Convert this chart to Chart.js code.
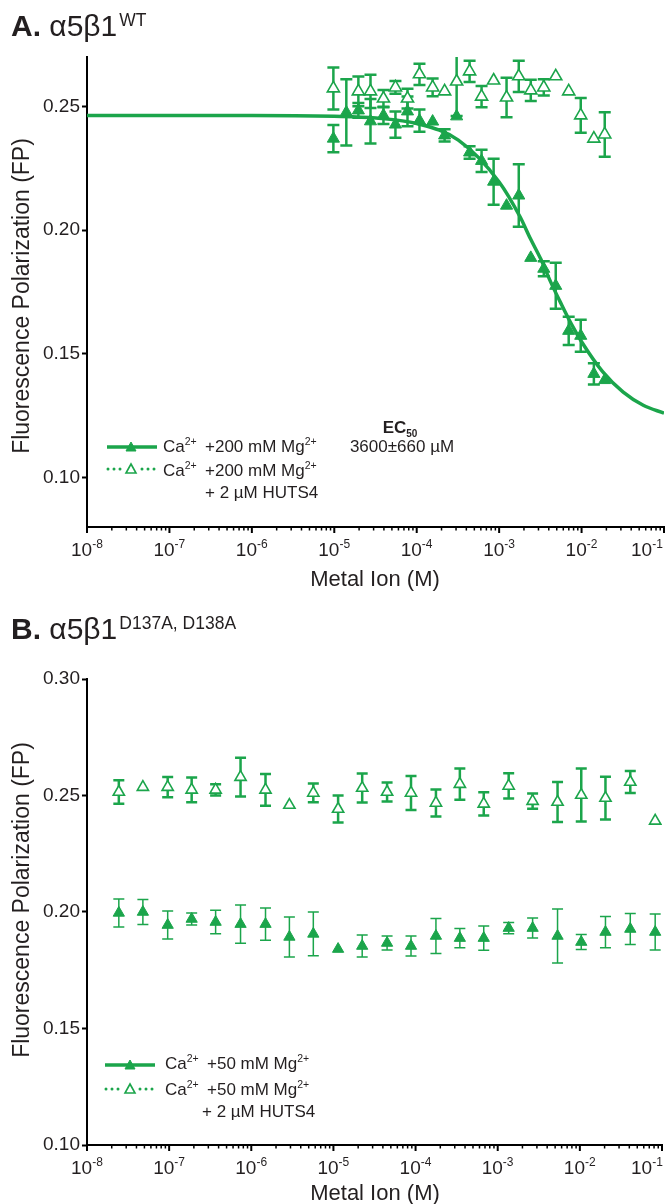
<!DOCTYPE html>
<html>
<head>
<meta charset="utf-8">
<title>Metal ion titration FP</title>
<script src="https://cdn.jsdelivr.net/npm/chart.js@4.4.1/dist/chart.umd.min.js"></script>
<style>
  html, body { margin: 0; padding: 0; background: #fff; }
  body { width: 666px; height: 1204px; position: relative; overflow: hidden;
         font-family: "Liberation Sans", Arial, Helvetica, sans-serif; color: #231f20; }
  canvas { position: absolute; left: 0; }
  #chartA { top: 0; }
  #chartB { top: 600px; }
  .txt { position: absolute; white-space: nowrap; line-height: 1; }
  .title { font-size: 30px; }
  .title sup { font-size: 17.5px; position: relative; top: -10px; vertical-align: baseline; line-height: 0; margin-left: 2px; }
  .leg { font-size: 17px; }
  .leg sup { font-size: 10.5px; position: relative; top: -7px; vertical-align: baseline; line-height: 0; }
  .ca { display: inline-block; width: 42px; }
  .ec { font-size: 17px; transform: translateX(-50%); }
  .ec sub { font-size: 10px; position: relative; top: 4px; vertical-align: baseline; line-height: 0; }
  .xtick { font-size: 19px; }
  .xtick sup { font-size: 12px; position: relative; top: -8px; vertical-align: baseline; line-height: 0; }
  .axt { font-size: 22px; transform: translateX(-50%); }
  .ytitle { font-size: 23px; transform: translate(-50%, -50%) rotate(-90deg); }
  #marks { position: absolute; left: 0; top: 0; pointer-events: none; }
</style>
</head>
<body>
<canvas id="chartA" width="666" height="600"></canvas>
<canvas id="chartB" width="666" height="604"></canvas>

<div class="txt title" style="left:11px;top:10.6px"><b>A.</b> α5β1<sup>WT</sup></div>
<div class="txt title" style="left:11px;top:613.6px"><b>B.</b> α5β1<sup>D137A, D138A</sup></div>

<div class="txt ytitle" style="left:21px;top:296px">Fluorescence Polarization (FP)</div>
<div class="txt ytitle" style="left:21px;top:900px">Fluorescence Polarization (FP)</div>
<div class="txt axt" style="left:375px;top:568px">Metal Ion (M)</div>
<div class="txt axt" style="left:375px;top:1182px">Metal Ion (M)</div>

<!-- legend A -->
<div class="txt leg" style="left:163px;top:437.6px"><span class="ca">Ca<sup>2+</sup></span>+200 mM Mg<sup>2+</sup></div>
<div class="txt leg" style="left:163px;top:461.6px"><span class="ca">Ca<sup>2+</sup></span>+200 mM Mg<sup>2+</sup></div>
<div class="txt leg" style="left:205px;top:483.6px">+ 2 µM HUTS4</div>
<div class="txt ec" style="left:400px;top:418.6px"><b>EC<sub>50</sub></b></div>
<div class="txt ec" style="left:402px;top:437.6px">3600±660 µM</div>

<!-- legend B -->
<div class="txt leg" style="left:165px;top:1054.6px"><span class="ca">Ca<sup>2+</sup></span>+50 mM Mg<sup>2+</sup></div>
<div class="txt leg" style="left:165px;top:1080.6px"><span class="ca">Ca<sup>2+</sup></span>+50 mM Mg<sup>2+</sup></div>
<div class="txt leg" style="left:202px;top:1102.6px">+ 2 µM HUTS4</div>

<svg id="marks" width="666" height="1204">
  <g stroke="#1ba54b" fill="#1ba54b">
    <line x1="107" y1="447" x2="157" y2="447" stroke-width="3.5"/>
    <polygon points="131,442 136,451 126,451" stroke-width="1"/>
    <line x1="108" y1="469" x2="122" y2="469" stroke-width="3" stroke-dasharray="0 6" stroke-linecap="round"/>
    <line x1="142" y1="469" x2="156" y2="469" stroke-width="3" stroke-dasharray="0 6" stroke-linecap="round"/>
    <polygon points="131,464 136,473 126,473" fill="#fff" stroke-width="1.6"/>

    <line x1="105" y1="1065" x2="155" y2="1065" stroke-width="3.5"/>
    <polygon points="130,1060 135,1069 125,1069" stroke-width="1"/>
    <line x1="106" y1="1089" x2="120" y2="1089" stroke-width="3" stroke-dasharray="0 6" stroke-linecap="round"/>
    <line x1="140" y1="1089" x2="154" y2="1089" stroke-width="3" stroke-dasharray="0 6" stroke-linecap="round"/>
    <polygon points="130,1084 135,1093 125,1093" fill="#fff" stroke-width="1.6"/>
  </g>
</svg>

<script>
var green = '#1ba54b';

// decades shown on the x axis (10^n)
var xExps = [-8, -7, -6, -5, -4, -3, -2, -1];

// ---- A. a5b1 WT, Ca2+ + 200 mM Mg2+ ----
var concA = [9.75e-6, 1.40e-5, 1.96e-5, 2.75e-5, 3.95e-5, 5.52e-5, 7.73e-5, 1.08e-4, 1.56e-4, 2.18e-4,
             3.05e-4, 4.38e-4, 6.12e-4, 8.57e-4, 1.23e-3, 1.73e-3, 2.42e-3, 3.48e-3, 4.86e-3, 6.98e-3,
             9.77e-3, 1.41e-2, 1.91e-2];
var fpA = [0.2370, 0.2476, 0.2484, 0.2440, 0.2464, 0.2427, 0.2480, 0.2443, 0.2439, 0.2383,
           0.2460, 0.2314, 0.2280, 0.2196, 0.2099, 0.2140, 0.1888, 0.1844, 0.1775, 0.1593,
           0.1573, 0.1419, 0.1394];
var errA = [0.0055, 0.0134, 0.0030, 0.0090, 0.0035, 0.0053, 0.0060, 0.0045, 0, 0.0025,
            0, 0.0025, 0.0045, 0.0093, 0, 0.0126, 0, 0.0030, 0.0093, 0.0057,
            0.0065, 0.0043, 0];

// ---- A. + 2 uM HUTS4 ----
var concAHuts = [9.75e-6, 1.96e-5, 2.75e-5, 3.95e-5, 5.52e-5, 7.73e-5, 1.08e-4, 1.56e-4, 2.18e-4,
                 3.05e-4, 4.38e-4, 6.12e-4, 8.57e-4, 1.23e-3, 1.73e-3, 2.42e-3, 3.48e-3, 4.86e-3,
                 6.98e-3, 9.77e-3, 1.41e-2, 1.91e-2];
var fpAHuts = [0.2573, 0.2561, 0.2561, 0.2532, 0.2577, 0.2532, 0.2630, 0.2577, 0.2561,
               0.2601, 0.2642, 0.2540, 0.2605, 0.2536, 0.2622, 0.2565, 0.2577, 0.2622,
               0.2561, 0.2464, 0.2370, 0.2387];
var errAHuts = [0.0085, 0.0060, 0.0067, 0.0035, 0.0026, 0.0040, 0.0043, 0.0036, 0,
                0.0140, 0.0043, 0.0043, 0, 0.0080, 0.0063, 0.0043, 0.0033, 0,
                0, 0.0070, 0, 0.0090];

// fitted curve
var fitX = [1e-8, 1e-7, 1e-6, 1e-5, 3.2e-5, 1e-4, 3.2e-4, 1e-3, 1.8e-3, 2.4e-3, 3.2e-3, 4.2e-3,
            5.6e-3, 7.5e-3, 1e-2, 1.8e-2, 3.2e-2, 5.6e-2, 0.1];
var fitY = [0.2464, 0.2464, 0.2464, 0.2460, 0.2453, 0.2431, 0.2364, 0.2195, 0.2053, 0.1965, 0.1883, 0.1792,
            0.1705, 0.1621, 0.1549, 0.1428, 0.1345, 0.1292, 0.1260];
var yTicksA = [0.10, 0.15, 0.20, 0.25];

// ---- B. a5b1 D137A, D138A, Ca2+ + 50 mM Mg2+ ----
var concB = [2.44e-8, 4.79e-8, 9.6e-8, 1.88e-7, 3.68e-7, 7.4e-7, 1.49e-6, 2.91e-6, 5.69e-6, 1.14e-5,
             2.24e-5, 4.5e-5, 8.8e-5, 1.77e-4, 3.46e-4, 6.76e-4, 1.36e-3, 2.66e-3, 5.35e-3, 1.04e-2,
             2.05e-2, 4.11e-2, 8.26e-2];
var fpB = [0.1996, 0.2000, 0.1944, 0.1970, 0.1957, 0.1948, 0.1948, 0.1893, 0.1906, 0.1841,
           0.1854, 0.1867, 0.1854, 0.1897, 0.1888, 0.1888, 0.1931, 0.1931, 0.1897, 0.1871,
           0.1914, 0.1927, 0.1914];
var errB = [0.0060, 0.0054, 0.0060, 0.0026, 0.0050, 0.0082, 0.0069, 0.0086, 0.0094, 0,
            0.0047, 0.0030, 0.0043, 0.0075, 0.0041, 0.0052, 0.0024, 0.0043, 0.0116, 0.0032,
            0.0067, 0.0067, 0.0077];
// ---- B. + 2 uM HUTS4 ----
var fpBHuts = [0.2515, 0.2536, 0.2536, 0.2524, 0.2524, 0.2579, 0.2524, 0.2459, 0.2511, 0.2442,
               0.2532, 0.2515, 0.2511, 0.2468, 0.2549, 0.2464, 0.2541, 0.2476, 0.2472, 0.2502,
               0.2489, 0.2558, 0.2391];
var errBHuts = [0.0050, 0, 0.0043, 0.0053, 0.0024, 0.0083, 0.0068, 0, 0.0040, 0.0058,
                0.0062, 0.0041, 0.0073, 0.0058, 0.0067, 0.0050, 0.0054, 0.0033, 0.0086, 0.0114,
                0.0092, 0.0047, 0];
var yTicksB = [0.10, 0.15, 0.20, 0.25, 0.30];

function points(xs, ys) {
    return xs.map(function(x, i) { return { x: x, y: ys[i] }; });
}

// error bars drawn under the markers
var errorBars = {
    id: 'errorBars',
    beforeDatasetsDraw: function(chart) {
        var ctx = chart.ctx, area = chart.chartArea;
        var xs = chart.scales.x, ys = chart.scales.y;
        ctx.save();
        ctx.beginPath();
        ctx.rect(area.left, area.top, area.right - area.left, area.bottom - area.top);
        ctx.clip();
        chart.data.datasets.forEach(function(ds) {
            if (!ds.errors) return;
            ctx.strokeStyle = green;
            ctx.lineWidth = ds.errWidth;
            ds.data.forEach(function(p, i) {
                var e = ds.errors[i];
                if (!e) return;
                var px = xs.getPixelForValue(p.x);
                var top = ys.getPixelForValue(p.y + e);
                var bot = ys.getPixelForValue(p.y - e);
                ctx.beginPath();
                ctx.moveTo(px, top); ctx.lineTo(px, bot);
                ctx.moveTo(px - ds.capHalf, top); ctx.lineTo(px + ds.capHalf, top);
                ctx.moveTo(px - ds.capHalf, bot); ctx.lineTo(px + ds.capHalf, bot);
                ctx.stroke();
            });
        });
        ctx.restore();
    }
};

// major and minor tick marks under the log axis
var logTicks = {
    id: 'logTicks',
    afterDraw: function(chart) {
        var ctx = chart.ctx, xs = chart.scales.x;
        ctx.save();
        ctx.strokeStyle = '#000';
        xExps.forEach(function(e) {
            for (var m = 1; m <= 9; m++) {
                var v = m * Math.pow(10, e);
                if (v > xs.max * 1.0001) break;
                var px = xs.getPixelForValue(v);
                ctx.lineWidth = m === 1 ? 2 : 1.5;
                ctx.beginPath();
                ctx.moveTo(px, xs.top);
                ctx.lineTo(px, xs.top + (m === 1 ? 6 : 3.5));
                ctx.stroke();
            }
        });
        ctx.restore();
    }
};

function options(yMin, yMax, yTicks, padTop, padRight, xHeight) {
    return {
        responsive: false,
        animation: false,
        devicePixelRatio: 1,
        layout: { autoPadding: false, padding: { top: padTop, right: padRight, left: 0, bottom: 0 } },
        plugins: { legend: { display: false }, tooltip: { enabled: false } },
        scales: {
            x: {
                type: 'logarithmic', min: 1e-8, max: 0.1,
                grid: { display: false },
                border: { display: true, color: '#000', width: 2 },
                ticks: { display: false },
                afterFit: function(s) { s.height = xHeight; }
            },
            y: {
                min: yMin, max: yMax,
                afterBuildTicks: function(s) { s.ticks = yTicks.map(function(v) { return { value: v }; }); },
                grid: { drawOnChartArea: false, drawTicks: true, tickLength: 5, tickWidth: 2, tickColor: '#000' },
                border: { color: '#000', width: 2 },
                ticks: {
                    font: { family: 'Liberation Sans', size: 19 }, color: '#231f20', padding: 2,
                    callback: function(v) { return Number(v).toFixed(2); }
                },
                afterFit: function(s) { s.width = 87; }
            }
        }
    };
}

var chartA = new Chart(document.getElementById('chartA'), {
    type: 'scatter',
    data: {
        datasets: [
            { label: 'Ca2+ +200 mM Mg2+', data: points(concA, fpA), errors: errA, errWidth: 2.5, capHalf: 6,
              pointStyle: 'triangle', pointRadius: 7, pointBackgroundColor: green, pointBorderColor: green,
              pointBorderWidth: 1, order: 1 },
            { label: 'Ca2+ +200 mM Mg2+ + 2 uM HUTS4', data: points(concAHuts, fpAHuts), errors: errAHuts,
              errWidth: 2.5, capHalf: 6, pointStyle: 'triangle', pointRadius: 7, pointBackgroundColor: '#fff',
              pointBorderColor: green, pointBorderWidth: 1.6, order: 2 },
            { label: 'fit', data: points(fitX, fitY), showLine: true, borderColor: green, borderWidth: 3.5,
              pointRadius: 0, cubicInterpolationMode: 'monotone', fill: false, order: 3 }
        ]
    },
    options: options(0.08, 0.27, yTicksA, 57, 2, 73),
    plugins: [errorBars, logTicks]
});

var chartB = new Chart(document.getElementById('chartB'), {
    type: 'scatter',
    data: {
        datasets: [
            { label: 'Ca2+ +50 mM Mg2+', data: points(concB, fpB), errors: errB, errWidth: 1.5, capHalf: 5.5,
              pointStyle: 'triangle', pointRadius: 6.5, pointBackgroundColor: green, pointBorderColor: green,
              pointBorderWidth: 1, order: 1 },
            { label: 'Ca2+ +50 mM Mg2+ + 2 uM HUTS4', data: points(concB, fpBHuts), errors: errBHuts,
              errWidth: 2.5, capHalf: 5.5, pointStyle: 'triangle', pointRadius: 6.5, pointBackgroundColor: '#fff',
              pointBorderColor: green, pointBorderWidth: 1.6, order: 2 }
        ]
    },
    options: options(0.10, 0.30, yTicksB, 79, 4, 59),
    plugins: [errorBars, logTicks]
});

// x tick labels as html so the exponents can be superscripts
function addXLabels(chart, pageTop) {
    var xs = chart.scales.x;
    xExps.forEach(function(e) {
        var div = document.createElement('div');
        div.className = 'txt xtick';
        div.innerHTML = '10<sup>' + e + '</sup>';
        document.body.appendChild(div);
        var w = div.offsetWidth;
        var left = xs.getPixelForValue(Math.pow(10, e)) - w / 2;
        if (left + w > 663) left = 663 - w;
        div.style.left = left + 'px';
        div.style.top = (pageTop + xs.top + 13) + 'px';
    });
}
addXLabels(chartA, 0);
addXLabels(chartB, 600);
</script>
</body>
</html>
